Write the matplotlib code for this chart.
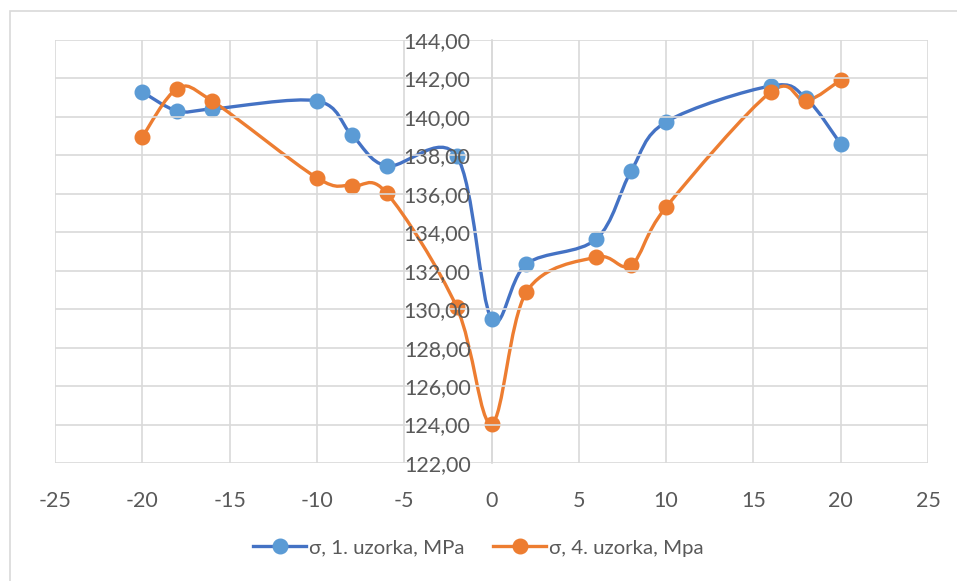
import matplotlib
matplotlib.use('Agg')
import matplotlib.pyplot as plt
import numpy as np
from matplotlib.path import Path
from matplotlib.patches import PathPatch
from matplotlib.lines import Line2D
from matplotlib.ticker import FuncFormatter, MultipleLocator

plt.rcParams['font.family'] = ['Lato', 'DejaVu Sans']
plt.rcParams['axes.unicode_minus'] = False

# positions along the sample (x) and stress values for both samples
x_pos = [-20, -18, -16, -10, -8, -6, -2, 0, 2, 6, 8, 10, 16, 18, 20]
sigma_1 = [141.30, 140.31, 140.41, 140.83, 139.06, 137.45, 137.97, 129.49,
           132.35, 133.65, 137.19, 139.74, 141.61, 140.98, 138.59]
sigma_4 = [138.96, 141.46, 140.83, 136.83, 136.41, 136.04, 130.12, 124.05,
           130.89, 132.71, 132.30, 135.31, 141.30, 140.83, 141.92]
labels = ['σ, 1. uzorka, MPa', 'σ, 4. uzorka, Mpa']

line_colors = ['#4472C4', '#ED7D31']
marker_colors = ['#5B9BD5', '#ED7D31']


def smooth_path(xs, ys, t=1 / 6):
    """Excel-like smoothed line: cubic Bezier segments (Catmull-Rom style)."""
    p = np.column_stack([xs, ys]).astype(float)
    n = len(p)
    verts = [p[0]]
    codes = [Path.MOVETO]
    for i in range(n - 1):
        p0 = p[i - 1] if i > 0 else p[i]
        p1 = p[i]
        p2 = p[i + 1]
        p3 = p[i + 2] if i + 2 < n else p[i + 1]
        c1 = p1 + (p2 - p0) * t
        c2 = p2 - (p3 - p1) * t
        verts += [c1, c2, p2]
        codes += [Path.CURVE4] * 3
    return Path(verts, codes)


fig = plt.figure(figsize=(9.57, 5.81), dpi=100)
ax = fig.add_axes([55 / 957, 1 - 463 / 581, (928 - 55) / 957, (463 - 40) / 581])

# outer chart border (runs off the right and bottom edge)
fig.patches.append(plt.Rectangle((10 / 957, -0.05), 1.0, 1.05 - 11 / 581,
                                 transform=fig.transFigure, fill=False,
                                 edgecolor='#d9d9d9', linewidth=1.2))

for ys, lc, mc in zip([sigma_1, sigma_4], line_colors, marker_colors):
    ax.add_patch(PathPatch(smooth_path(x_pos, ys), facecolor='none',
                           edgecolor=lc, linewidth=2.4, zorder=3))
    ax.plot(x_pos, ys, linestyle='none', marker='o', markersize=10.5,
            color=mc, zorder=4)

ax.set_xlim(-25, 25)
ax.set_ylim(122, 144)
ax.xaxis.set_major_locator(MultipleLocator(5))
ax.yaxis.set_major_locator(MultipleLocator(2))
ax.yaxis.set_major_formatter(FuncFormatter(lambda v, p: f'{v:.2f}'.replace('.', ',')))

ax.grid(True, color='#d9d9d9', linewidth=1.2)
ax.set_axisbelow(True)
ax.yaxis.set_zorder(5)  # tick labels sit on top of the curves, as in Excel
for s in ['top', 'right', 'bottom']:
    ax.spines[s].set_visible(False)
ax.spines['left'].set_position(('data', 0))
ax.spines['left'].set_color('#d9d9d9')
ax.spines['left'].set_linewidth(1.2)
ax.spines['left'].set_zorder(1)
ax.tick_params(length=0, labelsize=15.5, colors='#595959')
ax.tick_params(axis='x', pad=20)
ax.tick_params(axis='y', pad=15)

handles = [Line2D([0], [0], color=lc, linewidth=2.4, marker='o', markersize=10.5,
                  markerfacecolor=mc, markeredgecolor=mc)
           for lc, mc in zip(line_colors, marker_colors)]
leg = fig.legend(handles, labels, loc='center', bbox_to_anchor=(0.5, 1 - 548 / 581),
                 ncol=2, frameon=False, fontsize=14.7, handlelength=2.6,
                 handletextpad=0.15, columnspacing=1.4)
for t in leg.get_texts():
    t.set_color('#595959')

fig.savefig('out.png', dpi=100)
